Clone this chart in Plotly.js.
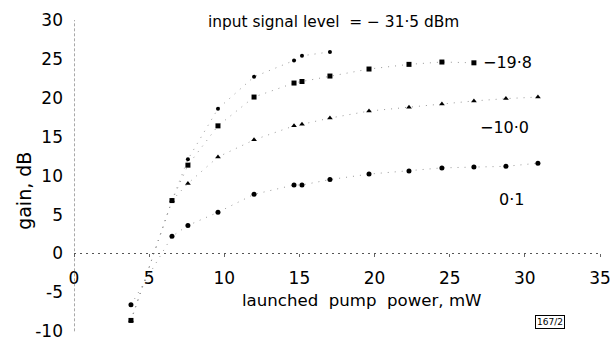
<!DOCTYPE html>
<html>
<head>
<meta charset="utf-8">
<script src="https://cdn.plot.ly/plotly-3.0.1.min.js"></script>
<style>html,body{margin:0;padding:0;background:#fff;}#chart{width:611px;height:340px;}</style>
</head>
<body>
<div id="chart"></div>
<script>
// pump power (mW) and gain (dB) for each input signal level
const pumpA = [3.79, 6.52, 7.58, 9.58, 11.98, 14.64, 15.17, 17.03];
const gainA = [-8.6, 6.8, 12.1, 18.6, 22.7, 24.8, 25.4, 25.9];           // -31.5 dBm

const pumpB = [3.79, 6.52, 7.58, 9.58, 11.98, 14.64, 15.17, 17.03, 19.63, 22.29, 24.48, 26.61];
const gainB = [-8.6, 6.8, 11.35, 16.4, 20.1, 21.9, 22.1, 22.8, 23.7, 24.3, 24.6, 24.5];   // -19.8 dBm

const pumpC = [3.79, 6.52, 7.58, 9.58, 11.98, 14.64, 15.17, 17.03, 19.63, 22.29, 24.48, 26.61, 28.74, 30.87];
const gainC = [-8.6, 6.8, 9.0, 12.4, 14.6, 16.4, 16.6, 17.4, 18.3, 18.8, 19.2, 19.6, 19.9, 20.1]; // -10.0 dBm

const pumpD = [3.79, 6.52, 7.58, 9.58, 11.98, 14.64, 15.17, 17.03, 19.63, 22.29, 24.48, 26.61, 28.74, 30.87];
const gainD = [-6.6, 2.2, 3.6, 5.3, 7.6, 8.8, 8.8, 9.5, 10.2, 10.6, 11.0, 11.1, 11.2, 11.6];       // 0.1 dBm

const seriesLabels = ["\u221219\u00b78", "\u221210\u00b70", "0\u00b71"];
const xTicks = [0, 5, 10, 15, 20, 25, 30, 35];
const yTicks = [-10, -5, 0, 5, 10, 15, 20, 25, 30];

const FONT = "DejaVu Sans, sans-serif";
const lineStyle = {color: "#999", width: 1, dash: "1px,6px"};

function tr(x, y, sym, size) {
  return {
    x: x, y: y, type: "scatter", mode: "lines+markers",
    line: lineStyle,
    marker: {symbol: sym, size: size, color: "#000"},
    showlegend: false, hoverinfo: "skip"
  };
}

const data = [
  tr(pumpA, gainA, "circle", 4),
  tr(pumpB, gainB, "square", 5),
  tr(pumpC, gainC, "triangle-up", 5),
  tr(pumpD, gainD, "circle", 5)
];

const yMin = -10.6, yMax = 30;

const layout = {
  width: 611, height: 340,
  margin: {l: 74, r: 11, t: 20, b: 4},
  paper_bgcolor: "#fff", plot_bgcolor: "#fff",
  font: {family: FONT, color: "#000", size: 16},
  xaxis: {
    range: [0, 35], tickvals: xTicks, ticktext: xTicks.map(String),
    anchor: "free", position: -yMin / (yMax - yMin),
    showgrid: false, zeroline: false, showline: false,
    ticks: "outside", ticklen: 3, tickcolor: "#666",
    ticklabelstandoff: 6,
    tickfont: {family: FONT, size: 17, color: "#000"}
  },
  yaxis: {
    range: [yMin, yMax], tickvals: yTicks, ticktext: yTicks.map(String),
    showgrid: false, zeroline: false, showline: false,
    ticks: "", ticklabelstandoff: 10, ticklabeloverflow: "allow",
    tickfont: {family: FONT, size: 17, color: "#000"}
  },
  shapes: [
    {type: "line", xref: "x", yref: "y", x0: 0, x1: 35, y0: 0, y1: 0,
     line: {color: "#555", width: 1, dash: "2px,4px"}},
    {type: "line", xref: "x", yref: "y", x0: 0, x1: 0, y0: -10, y1: 30,
     line: {color: "#555", width: 1, dash: "3px,2px"}}
  ],
  annotations: [
    {text: "input signal level  = \u2212 31\u00b75 dBm", xref: "paper", yref: "paper",
     x: 0.5, y: 1.0, xanchor: "center", yanchor: "middle", showarrow: false,
     xshift: -4, yshift: -2, font: {size: 15.4}},
    {text: "launched  pump  power, mW", xref: "paper", yref: "paper",
     x: 0.5, y: 0, xanchor: "center", yanchor: "middle", showarrow: false,
     xshift: 24, yshift: 36, font: {size: 16.6}},
    {text: "gain, dB", xref: "paper", yref: "paper", textangle: -90,
     x: 0, y: 0.453, xanchor: "center", yanchor: "middle", showarrow: false,
     xshift: -50, yshift: 2, font: {size: 19}},
    {text: seriesLabels[0], xref: "x", yref: "y", x: pumpB[pumpB.length - 1], y: gainB[gainB.length - 1],
     xanchor: "left", yanchor: "middle", showarrow: false, xshift: 7, font: {size: 16}},
    {text: seriesLabels[1], xref: "x", yref: "y", x: pumpC[pumpC.length - 3], y: gainC[gainC.length - 3],
     xanchor: "left", yanchor: "middle", showarrow: false, xshift: 4, yshift: -27, font: {size: 16}},
    {text: seriesLabels[2], xref: "x", yref: "y", x: pumpD[pumpD.length - 2], y: gainD[gainD.length - 2],
     xanchor: "left", yanchor: "middle", showarrow: false, xshift: -9, yshift: -33, font: {size: 16}},
    {text: "167/2", xref: "paper", yref: "paper", x: 1, y: 0,
     xanchor: "center", yanchor: "middle", showarrow: false,
     xshift: -50, yshift: 14, font: {size: 9}, bordercolor: "#000", borderwidth: 1, borderpad: 1}
  ]
};

Plotly.newPlot("chart", data, layout, {staticPlot: true, displayModeBar: false});
</script>
</body>
</html>
